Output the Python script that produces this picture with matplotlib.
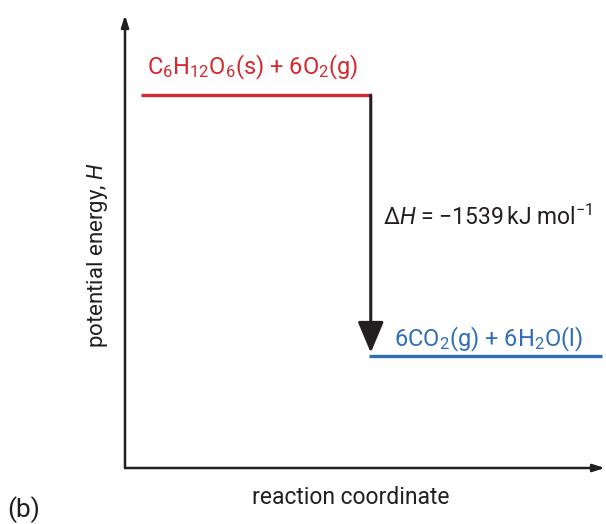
import matplotlib
matplotlib.use("Agg")
import matplotlib.pyplot as plt

# energy levels (kJ/mol, reactants taken as zero)
levels = ["reactants", "products"]
enthalpy = [0, -1539]
x_start = [0.033, 0.508]
x_end = [0.512, 0.994]
level_colors = ["#d7282f", "#2f6fba"]
level_labels = [r"C$_6$H$_{12}$O$_6$(s) + 6O$_2$(g)", r"6CO$_2$(g) + 6H$_2$O(l)"]
delta_h = enthalpy[1] - enthalpy[0]

family = "Roboto"
plt.rcParams["font.family"] = [family, "DejaVu Sans"]
plt.rcParams["mathtext.fontset"] = "custom"
plt.rcParams["mathtext.rm"] = family
plt.rcParams["mathtext.it"] = family + ":italic"

fig = plt.figure(figsize=(6.06, 5.24), dpi=100)
ax = fig.add_axes([125 / 606, 56 / 524, 480 / 606, 453 / 524])
ax.set_xlim(0, 1)
ax.set_ylim(-2199, 473)
ax.axis("off")

axis_col = "#231f20"
# axis arrows
ax.annotate("", xy=(0, 1), xytext=(0, 0), xycoords="axes fraction",
            arrowprops=dict(arrowstyle="-|>,head_length=0.7,head_width=0.22",
                            color=axis_col, lw=1.8, shrinkA=0, shrinkB=0))
ax.annotate("", xy=(1, 0), xytext=(0, 0), xycoords="axes fraction",
            arrowprops=dict(arrowstyle="-|>,head_length=0.7,head_width=0.22",
                            color=axis_col, lw=1.8, shrinkA=0, shrinkB=0))

# energy levels
for i in range(len(levels)):
    ax.plot([x_start[i], x_end[i]], [enthalpy[i], enthalpy[i]],
            color=level_colors[i], lw=2.4, solid_capstyle="butt")

ax.text(0.266, enthalpy[0] + 124, level_labels[0],
        color=level_colors[0], fontsize=17, ha="center", va="baseline")
ax.text(0.756, enthalpy[1] + 59, level_labels[1],
        color=level_colors[1], fontsize=17, ha="center", va="baseline")

# enthalpy change arrow
ax.annotate("", xy=(x_end[0], enthalpy[1] + 20), xytext=(x_end[0], enthalpy[0]),
            arrowprops=dict(arrowstyle="-|>,head_length=1.9,head_width=0.8",
                            color=axis_col, lw=2.2, shrinkA=0, shrinkB=0))
ax.text(0.5375, enthalpy[0] + 0.498 * delta_h,
        r"$\Delta$$\mathit{H}$ = $-$1539$\,$kJ mol$^{-1}$",
        color=axis_col, fontsize=16.5, ha="left", va="baseline")

# axis labels
ax.text(-0.058, 0.47, r"potential energy, $\mathit{H}$", transform=ax.transAxes,
        rotation=90, fontsize=16, color=axis_col, ha="center", va="center")
ax.text(0.47, -0.065, "reaction coordinate", transform=ax.transAxes,
        fontsize=16.5, color=axis_col, ha="center", va="center")
fig.text(7 / 606, 1 - 510 / 524, "(b)", fontsize=19, color=axis_col,
         ha="left", va="center")

fig.savefig("out.png", dpi=100)
